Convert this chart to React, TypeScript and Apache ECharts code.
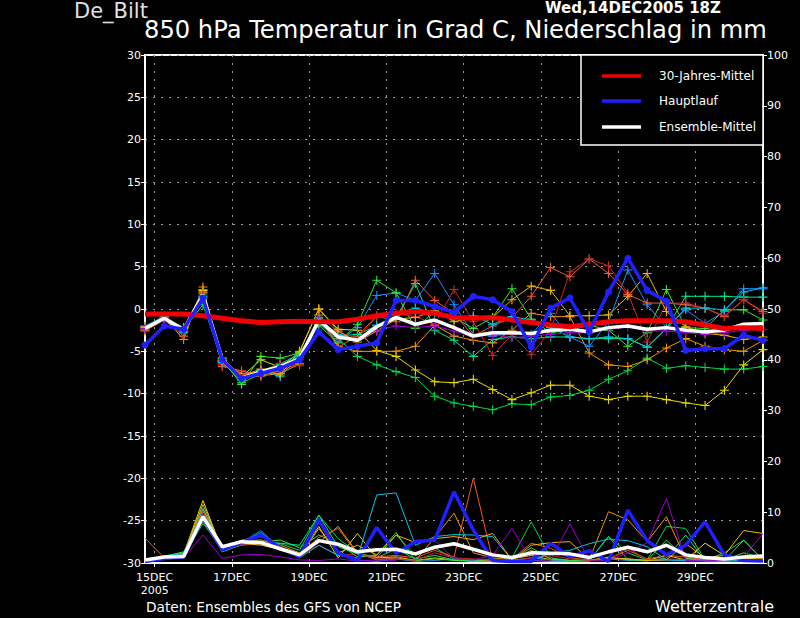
import React, { useEffect, useRef } from "react";
import * as echarts from "echarts";

// time axis: days since 15DEC2005 00Z (12-hourly from 14DEC 18Z)
const days = [
  -0.25, 0.25, 0.75, 1.25, 1.75, 2.25, 2.75, 3.25, 3.75, 4.25, 4.75,
  5.25, 5.75, 6.25, 6.75, 7.25, 7.75, 8.25, 8.75, 9.25, 9.75, 10.25,
  10.75, 11.25, 11.75, 12.25, 12.75, 13.25, 13.75, 14.25, 14.75, 15.25, 15.75,
];
const tickDays = [0, 2, 4, 6, 8, 10, 12, 14];
const tickLabels = ["15DEC\n2005", "17DEC", "19DEC", "21DEC", "23DEC", "25DEC", "27DEC", "29DEC"];

// thick lines
const climMean = [
  -0.6, -0.6, -0.6, -0.8, -1.1, -1.4, -1.6, -1.5, -1.45, -1.5, -1.5, -1.2, -0.8,
  -0.5, -0.3, -0.5, -1.0, -1.1, -1.0, -1.3, -1.6, -1.9, -2.1, -1.8, -1.5, -1.4,
  -1.4, -1.4, -1.5, -1.9, -2.3, -2.2, -2.3,
];
const mainRun = [
  -4.25, -2.0, -2.4, 1.3, -6.0, -8.2, -7.6, -7.0, -6.0, -2.7, -4.8, -4.4, -4.0,
  1.0, 1.0, 0.3, -0.4, 1.5, 1.1, -0.3, -4.5, 0.1, 1.3, -2.7, 2.0, 6.0, 2.2, 0.9,
  -4.9, -4.7, -4.7, -3.1, -3.7,
];
const ensMean = [
  -2.3, -1.1, -2.5, 1.65, -6.0, -8.2, -7.4, -6.8, -5.9, -1.3, -3.3, -3.7, -2.1,
  -1.0, -1.8, -1.3, -2.2, -3.2, -2.8, -2.8, -2.9, -2.5, -2.4, -2.7, -2.2, -2.0,
  -2.4, -2.2, -2.5, -2.7, -2.5, -1.8, -1.7,
];
const mainPrecip = [
  0.3, 0.9, 1.2, 9.0, 2.6, 4.0, 5.5, 3.0, 1.2, 8.5, 2.0, 0.5, 7.0, 1.9, 4.2, 4.5,
  14.0, 6.5, 0.5, 0.3, 0.3, 3.9, 1.2, 2.4, 0.3, 10.4, 4.4, 1.6, 3.5, 8.1, 1.6, 0.5, 0.4,
];
const meanPrecip = [
  0.6, 1.2, 1.3, 9.1, 3.2, 4.2, 4.0, 2.8, 1.6, 4.4, 3.7, 2.2, 2.6, 2.7, 1.8, 3.1,
  3.8, 2.7, 1.6, 1.1, 2.0, 1.9, 1.8, 1.1, 2.2, 3.1, 2.2, 3.5, 1.6, 1.1, 0.8, 1.2, 1.4,
];

// ensemble members: temperature
const m1T = [-2.4, -1.2, -2.8, 1.2, -6.2, -8.7, -7.7, -6.6, -5.6, -1.5, -3.5, -5.6, -6.6, -7.4, -8.1, -10.3, -11.1, -11.5, -11.9, -11.2, -11.3, -10.4, -10.2, -9.6, -8.3, -7.3, -5.8, -7.0, -6.7, -6.9, -7.1, -7.1, -6.8];
const m2T = [-2.2, -1.0, -2.3, 2.2, -5.8, -8.0, -6.0, -6.9, -5.1, 0.0, -2.4, -2.5, -4.9, -5.6, -7.2, -8.6, -8.7, -8.3, -9.5, -10.7, -9.9, -9.0, -9.0, -10.3, -10.7, -10.3, -10.3, -10.7, -11.1, -11.4, -9.6, -6.6, -4.8];
const m3T = [-2.5, -1.0, -3.6, 2.6, -6.5, -7.6, -7.9, -7.6, -6.5, -0.7, -4.4, -5.0, -5.0, -5.0, -4.4, -1.9, -3.2, -3.7, -4.0, -2.5, -0.5, -0.9, -0.9, -5.2, -6.6, -6.8, -6.0, -4.6, -3.5, -4.4, -4.8, -5.0, -3.7];
const m4T = [-2.0, -0.9, -2.2, 1.8, -5.9, -8.4, -7.3, -6.5, -5.3, -1.8, -3.2, -3.0, -2.0, -1.0, 3.0, -2.5, -3.7, -5.6, -3.6, -3.3, -3.5, -3.3, -3.3, -3.5, -3.5, -3.5, -4.5, -2.3, 1.5, 1.5, 1.5, 1.4, 1.4];
const m5T = [-2.1, -0.8, -2.6, 1.5, -6.1, -8.0, -7.6, -7.3, -5.7, -1.6, -3.8, -2.2, 1.6, 1.9, 1.0, 4.2, 0.5, -3.0, -3.2, -2.8, -3.0, -0.5, -3.3, -4.4, -1.5, 4.6, 0.5, -2.2, -0.1, -1.7, -0.3, 2.4, 2.4];
const m6T = [-2.2, -1.1, -2.4, 0.5, -6.0, -8.9, -5.6, -5.8, -5.2, -1.9, -4.0, -1.8, 3.4, 1.9, -2.3, -0.3, -1.0, -2.3, -1.0, 2.4, -1.2, -2.8, -2.5, -1.9, -2.5, -4.4, -2.8, 2.3, -2.2, -2.3, -0.1, -0.1, -1.3];
const m7T = [-2.6, -1.3, -3.2, 2.3, -6.8, -7.3, -7.9, -7.3, -6.4, -1.0, -4.5, -3.2, -0.8, -1.5, 3.4, 1.0, -0.5, -3.2, -2.0, -1.0, 1.5, 4.9, 3.8, 5.9, 4.2, 1.7, 0.7, 0.7, 0.5, 0.1, -0.9, 1.1, -0.3];
const m8T = [-2.4, -1.0, -2.9, 1.9, -6.6, -7.7, -7.5, -6.4, -6.7, -0.8, -2.7, -3.5, -0.9, -0.5, -0.9, -1.8, 2.3, -1.5, -5.5, -3.0, -5.4, -2.5, 4.4, 5.9, 5.1, 1.9, -3.9, 0.7, 0.7, 0.1, -0.8, 1.1, -0.5];
const m9T = [-2.3, -1.2, -2.7, 1.4, -6.3, -8.3, -7.2, -8.0, -5.5, -1.2, -3.0, -3.6, -1.9, -0.8, 0.1, -0.5, -1.2, -0.8, -1.8, -0.9, -1.3, -2.2, -3.3, -3.5, -3.3, -3.5, -4.5, -2.3, 0.1, 0.1, -0.1, 2.0, 2.5];
const m10T = [-2.1, -1.1, -2.2, 2.0, -6.1, -7.9, -7.1, -7.8, -5.0, 0.0, -2.6, -3.9, -2.6, -1.2, -1.0, -0.2, -1.5, -1.0, -1.0, 1.1, 2.7, 2.2, -0.8, -0.8, -0.7, 1.5, 4.2, -0.3, -2.1, -2.9, -3.1, -3.6, -3.3];
const m11T = [-2.3, -1.1, -2.5, 1.6, -6.0, -8.2, -7.5, -6.9, -6.0, -1.4, -3.4, -3.8, -2.5, -2.0, -2.2, -2.0, -2.6, -3.3, -3.0, -3.4, -3.2, -3.0, -2.8, -2.8, -2.4, -2.1, -2.6, -2.6, -2.8, -3.0, -2.8, -2.5, -2.4];

// ensemble members: precipitation (mm)
const m1P = [0.3, 1.0, 1.4, 7.8, 3.0, 4.2, 4.5, 3.8, 2.5, 9.4, 4.8, 2.0, 1.0, 5.5, 1.5, 3.0, 0.8, 0.6, 0.5, 1.0, 8.1, 1.0, 0.5, 0.4, 5.2, 2.0, 0.6, 7.2, 6.8, 0.6, 2.0, 4.5, 0.5];
const m2P = [0.2, 1.2, 1.8, 12.3, 2.5, 3.8, 4.0, 2.5, 1.5, 7.2, 1.0, 5.8, 1.0, 1.2, 0.5, 1.0, 0.6, 0.4, 0.5, 0.8, 1.5, 0.6, 0.4, 0.5, 1.0, 0.8, 0.5, 1.5, 0.6, 3.9, 1.5, 0.8, 1.0];
const m3P = [0.2, 1.0, 1.5, 10.5, 3.2, 4.5, 5.2, 3.5, 2.0, 4.0, 7.2, 2.0, 0.6, 1.0, 0.5, 5.0, 9.8, 2.0, 1.0, 0.6, 2.5, 0.8, 0.5, 0.6, 10.1, 8.5, 4.2, 9.1, 0.8, 0.5, 0.6, 1.2, 0.8];
const m4P = [0.3, 1.4, 2.0, 9.0, 2.8, 3.5, 3.9, 3.9, 3.5, 9.4, 3.2, 1.8, 1.0, 2.8, 0.8, 1.5, 0.6, 0.4, 0.3, 0.3, 0.5, 0.3, 0.3, 0.5, 5.2, 0.6, 0.4, 1.0, 5.5, 0.4, 0.5, 4.5, 0.6];
const m5P = [0.3, 1.1, 1.8, 9.5, 3.3, 4.0, 6.4, 2.8, 1.2, 8.8, 2.2, 0.6, 0.3, 0.8, 0.3, 0.5, 0.8, 0.6, 0.8, 0.5, 1.0, 0.6, 0.4, 0.6, 0.8, 0.5, 0.5, 0.6, 0.4, 0.5, 0.3, 0.4, 0.3];
const m6P = [0.4, 1.3, 2.2, 8.2, 2.2, 3.6, 4.2, 4.5, 3.0, 5.5, 3.8, 1.2, 1.5, 6.0, 0.5, 0.8, 0.5, 0.3, 0.4, 0.6, 3.0, 0.8, 0.5, 0.4, 1.2, 0.6, 0.5, 4.5, 1.0, 0.5, 0.6, 2.0, 1.0];
const m7P = [4.9, 1.0, 1.2, 10.1, 3.0, 4.2, 4.6, 3.0, 1.8, 5.0, 6.8, 1.8, 1.2, 1.5, 1.0, 2.5, 1.2, 16.7, 0.6, 0.8, 3.9, 2.9, 1.0, 0.6, 0.8, 2.5, 0.8, 1.5, 1.2, 0.6, 0.8, 0.6, 0.5];
const m8P = [0.2, 1.0, 1.3, 9.0, 2.6, 3.6, 3.8, 2.8, 1.4, 3.5, 1.5, 1.8, 0.8, 0.8, 0.5, 2.0, 1.0, 0.8, 0.5, 0.5, 1.0, 1.5, 0.8, 0.5, 0.6, 3.0, 0.6, 0.8, 0.6, 0.5, 0.6, 0.5, 0.6];
const m9P = [0.3, 1.2, 2.0, 10.8, 2.8, 4.0, 6.0, 3.2, 1.0, 3.5, 1.5, 1.0, 13.4, 13.8, 3.5, 5.2, 5.6, 5.5, 5.2, 0.6, 0.5, 1.9, 2.5, 3.8, 4.7, 4.4, 3.2, 0.6, 0.5, 0.4, 0.4, 0.5, 0.5];
const m10P = [0.2, 1.1, 1.6, 11.5, 2.7, 3.9, 3.5, 2.7, 1.3, 6.8, 2.0, 3.5, 1.6, 5.5, 4.0, 4.8, 5.2, 4.6, 5.8, 0.6, 3.5, 4.0, 4.2, 0.6, 1.0, 0.8, 0.5, 0.6, 3.8, 1.0, 1.5, 6.4, 5.8];
const m11P = [0.2, 0.8, 1.0, 5.5, 0.9, 1.6, 1.7, 1.2, 0.6, 0.5, 0.8, 0.4, 0.6, 0.5, 4.5, 4.5, 0.8, 0.6, 1.5, 6.8, 0.5, 0.6, 7.7, 0.6, 0.5, 2.0, 4.0, 12.7, 0.5, 0.4, 0.6, 1.2, 5.8];

const memberColors = [
  "#00d84a", "#e6dc00", "#f09600", "#00e68c", "#1e8cff", "#32e632",
  "#f05a28", "#c82828", "#00c8e6", "#f0b400", "#a000d2",
];
const memberTemps = [m1T, m2T, m3T, m4T, m5T, m6T, m7T, m8T, m9T, m10T, m11T];
const memberPrecips = [m1P, m2P, m3P, m4P, m5P, m6P, m7P, m8P, m9P, m10P, m11P];

const PLUS = "path://M4.4,0H5.6V4.4H10V5.6H5.6V10H4.4V5.6H0V4.4H4.4Z";
const FONT = "DejaVu Sans";
const GRID_COLOR = "#9a9a9a";

export default function App() {
  const ref = useRef<HTMLDivElement>(null);
  useEffect(() => {
    if (!ref.current) return;
    const chart = echarts.init(ref.current, null, { renderer: "svg" });
    const pair = (vals: number[]) => days.map((d, i) => [d, vals[i]]);
    const series: any[] = [];
    memberPrecips.forEach((p, k) => {
      series.push({
        type: "line", yAxisIndex: 1, data: pair(p), symbol: "none",
        lineStyle: { width: 1, color: memberColors[k] }, z: 2, silent: true,
      });
    });
    memberTemps.forEach((t, k) => {
      series.push({
        type: "line", data: pair(t), symbol: PLUS, symbolSize: 9,
        lineStyle: { width: 1, color: memberColors[k] },
        itemStyle: { color: memberColors[k], borderWidth: 0 }, z: 3, silent: true,
      });
    });
    series.push({
      type: "line", yAxisIndex: 1, data: pair(mainPrecip), symbol: "none",
      lineStyle: { width: 3.5, color: "#2020ff" }, z: 4,
    });
    series.push({
      type: "line", yAxisIndex: 1, data: pair(meanPrecip), symbol: "none",
      lineStyle: { width: 3.5, color: "#ffffff" }, z: 5,
    });
    series.push({
      type: "line", data: pair(ensMean), symbol: "none",
      lineStyle: { width: 3.5, color: "#ffffff" }, z: 5,
    });
    series.push({
      type: "line", data: pair(climMean), symbol: "none",
      lineStyle: { width: 5, color: "#f00000" }, z: 6,
    });
    series.push({
      type: "line", data: pair(mainRun), symbol: "circle", symbolSize: 7,
      lineStyle: { width: 3.5, color: "#2020ff" },
      itemStyle: { color: "#2020ff", borderWidth: 0 }, z: 7,
    });

    const gridLine = { show: true, lineStyle: { color: GRID_COLOR, width: 1, type: [2, 6] as any } };
    const legendRows = [
      { label: "30-Jahres-Mittel", color: "#f00000", y: 76 },
      { label: "Hauptlauf", color: "#2020ff", y: 101 },
      { label: "Ensemble-Mittel", color: "#ffffff", y: 127 },
    ];
    const graphic: any[] = [
      { type: "text", left: 74, top: 0, style: { text: "De_Bilt", fill: "#e0e0e0", font: `normal 21px "${FONT}"` } },
      { type: "text", left: 545, top: 0, style: { text: "Wed,14DEC2005 18Z", fill: "#ffffff", font: `bold 15px "${FONT}"` } },
      { type: "text", left: 144, top: 18, style: { text: "850 hPa Temperatur in Grad C, Niederschlag in mm", fill: "#ffffff", font: `normal 24.2px "${FONT}"` } },
      { type: "text", left: 146, top: 600, style: { text: "Daten: Ensembles des GFS von NCEP", fill: "#ffffff", font: `normal 13.7px "${FONT}"` } },
      { type: "text", left: 655, top: 598, style: { text: "Wetterzentrale", fill: "#ffffff", font: `normal 16px "${FONT}"` } },
      { type: "rect", z: 100, shape: { x: 581, y: 55, width: 182, height: 90 }, style: { fill: "#000000", stroke: "#ffffff", lineWidth: 1.5 } },
    ];
    legendRows.forEach((r) => {
      graphic.push({ type: "line", z: 101, shape: { x1: 602, y1: r.y, x2: 641, y2: r.y }, style: { stroke: r.color, lineWidth: 3.5 } });
      graphic.push({ type: "text", z: 101, x: 659, y: r.y, style: { text: r.label, fill: "#ffffff", font: `normal 12px "${FONT}"`, verticalAlign: "middle" } });
    });

    const labelFor = (v: number) => {
      const idx = tickDays.findIndex((d) => Math.abs(d - v) < 1e-6);
      return idx >= 0 ? tickLabels[idx] : "";
    };

    chart.setOption({
      animation: false,
      backgroundColor: "#000000",
      grid: { left: 145, right: 37, top: 55, bottom: 55, show: true, borderColor: "#ffffff", borderWidth: 2 },
      xAxis: {
        // no fixed interval: splitNumber 8 over a 16-day span gives nice ticks
        // at 0, 2, 4, ... days (15DEC, 17DEC, ...), used by ticks, labels and grid lines
        type: "value", min: -0.25, max: 15.75, splitNumber: 8,
        axisLine: { show: true, onZero: false, lineStyle: { color: "#ffffff", width: 2 } },
        axisTick: { show: true, length: 4, lineStyle: { color: "#ffffff" } },
        axisLabel: {
          color: "#ffffff", fontFamily: FONT, fontSize: 11, lineHeight: 13,
          showMinLabel: false, showMaxLabel: false,
          formatter: labelFor,
        },
        splitLine: gridLine,
      },
      yAxis: [
        {
          type: "value", min: -30, max: 30, interval: 5, position: "left",
          axisLine: { show: true, onZero: false, lineStyle: { color: "#ffffff", width: 2 } },
          axisTick: { show: true, length: 4, lineStyle: { color: "#ffffff" } },
          axisLabel: { color: "#ffffff", fontFamily: FONT, fontSize: 11, margin: 4 },
          splitLine: gridLine,
        },
        {
          type: "value", min: 0, max: 100, interval: 10, position: "right",
          axisLine: { show: true, onZero: false, lineStyle: { color: "#ffffff", width: 2 } },
          axisTick: { show: true, length: 4, lineStyle: { color: "#ffffff" } },
          axisLabel: { color: "#ffffff", fontFamily: FONT, fontSize: 11, margin: 4 },
          splitLine: { show: false },
        },
      ],
      series,
      graphic,
    });
    return () => chart.dispose();
  }, []);
  return (
    <div
      ref={ref}
      style={{ position: "fixed", left: 0, top: 0, width: 800, height: 618, background: "#000" }}
    />
  );
}
